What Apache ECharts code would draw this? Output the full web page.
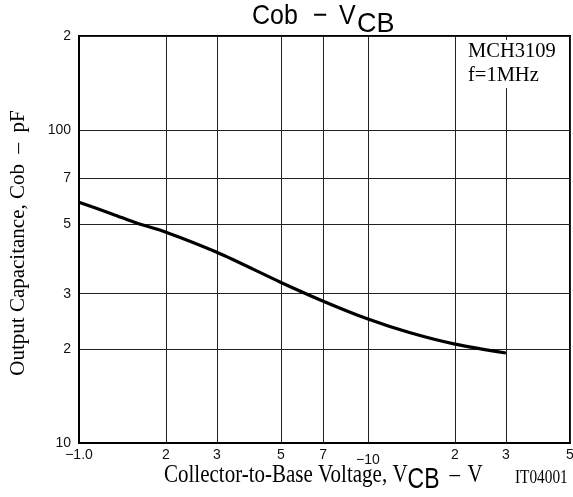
<!DOCTYPE html>
<html><head><meta charset="utf-8">
<script src="https://cdn.jsdelivr.net/npm/echarts@6/dist/echarts.min.js"></script>
<style>html,body{margin:0;padding:0;background:#fff}#c{width:573px;height:497px}</style>
</head><body><div id="c"></div>
<script>
// Data (Cob vs VCB, log-log)
const vcb = [1.0, 1.3, 1.6, 2, 3, 5, 7, 10, 14, 20, 30];
const cob = [58.8, 54.0, 50.3, 47.2, 40.7, 32.6, 28.4, 24.9, 22.5, 20.7, 19.4];
const xTickValues = [1, 2, 3, 5, 7, 10, 20, 30, 50];
const xTickLabels = ['\u22121.0', '2', '3', '5', '7', '\u221210', '2', '3', '5'];
const yTickValues = [10, 20, 30, 50, 70, 100, 200];
const yTickLabels = ['10', '2', '3', '5', '7', '100', '2'];
const legendLines = ['MCH3109', 'f=1MHz'];
const figureCode = 'IT04001';

const SERIF = "'Liberation Serif','Times New Roman',serif";
const SANS = "'Liberation Sans',Arial,Helvetica,sans-serif";

const cv = document.createElement('canvas').getContext('2d');
function tw(t, size, fam) { cv.font = size + 'px ' + fam; return cv.measureText(t).width; }

function lookup(vals, labels, v) {
  let best = 0, bd = Infinity;
  vals.forEach((x, i) => { const d = Math.abs(Math.log(x) - Math.log(v)); if (d < bd) { bd = d; best = i; } });
  return labels[best];
}

function txt(t, x, y, size, fam, sy, extra) {
  return Object.assign({ type: 'text', x: x, y: y, scaleY: sy || 1,
    style: { text: t, font: size + 'px ' + fam, fill: '#000', align: 'left', verticalAlign: 'top' } }, extra || {});
}

const chart = echarts.init(document.getElementById('c'), null, { renderer: 'canvas' });
const data = vcb.map((v, i) => [v, cob[i]]);

const graphics = [];
// Title: Cob − V_CB
graphics.push(txt('Cob', 252, 2, 25, SANS, 1.14));
graphics.push(txt('\u2212', 313, 2, 25, SANS, 1.14));
graphics.push(txt('V', 339, 2, 25, SANS, 1.14));
graphics.push(txt('CB', 357, 10, 27, SANS, 1.05));

// X axis title: Collector-to-Base Voltage, V_CB − V
const xs = 21;
const mainT = 'Collector-to-Base Voltage, V';
graphics.push(txt(mainT, 164, 462, xs, SERIF, 1.24));
const x1 = 164 + tw(mainT, xs, SERIF);
graphics.push(txt('CB', x1, 465, 23, SANS, 1.3));
graphics.push(txt('\u2013', x1 + 42, 462, xs, SERIF, 1.24));
graphics.push(txt('V', x1 + 60, 462, xs, SERIF, 1.24));
graphics.push(txt(figureCode, 515, 469, 15.3, SERIF, 1.2));

// Y axis title
graphics.push({ type: 'text', x: 18, y: 243, rotation: Math.PI / 2,
  style: { text: 'Output Capacitance, Cob  \u2013  pF', font: '21px ' + SERIF, fill: '#000', align: 'center', verticalAlign: 'middle' } });

// Legend box
graphics.push({ type: 'rect', shape: { x: 466, y: 40, width: 97, height: 48 }, style: { fill: '#fff' }, z: 10 });
graphics.push(txt(legendLines[0], 468, 41, 20.5, SERIF, 1, { z: 11 }));
graphics.push(txt(legendLines[1], 468, 65, 20.5, SERIF, 1, { z: 11 }));

const option = {
  animation: false,
  backgroundColor: '#fff',
  grid: { left: 79, right: 3, top: 36, bottom: 54, containLabel: false, outerBoundsMode: 'none',
          show: true, borderColor: '#000', borderWidth: 2 },
  xAxis: {
    type: 'log', logBase: 10, min: 1, max: 50,
    axisLine: { show: true, lineStyle: { color: '#000', width: 2 } },
    axisTick: { show: false, customValues: xTickValues },
    splitLine: { show: true, lineStyle: { color: '#222', width: 1 } },
    axisLabel: {
      customValues: xTickValues, showMinLabel: true, showMaxLabel: true,
      color: '#111', fontFamily: SANS, fontSize: 14, margin: 5,
      formatter: v => { const s = lookup(xTickValues, xTickLabels, v); return Math.abs(v - 10) < 0.01 ? '{low|' + s + '}' : s; },
      rich: { low: { fontFamily: SANS, fontSize: 14, color: '#111', padding: [5, 0, 0, 0] } }
    }
  },
  yAxis: {
    type: 'log', logBase: 10, min: 10, max: 200,
    axisLine: { show: true, lineStyle: { color: '#000', width: 2 } },
    axisTick: { show: false, customValues: yTickValues },
    splitLine: { show: true, lineStyle: { color: '#222', width: 1 } },
    axisLabel: {
      customValues: yTickValues, showMinLabel: true, showMaxLabel: true,
      color: '#111', fontFamily: SANS, fontSize: 14, margin: 8,
      formatter: v => lookup(yTickValues, yTickLabels, v)
    }
  },
  series: [{
    type: 'line', data: data, smooth: 0.3, symbol: 'none', clip: true,
    lineStyle: { color: '#000', width: 3.2 }, z: 5
  }],
  graphic: graphics
};
chart.setOption(option);
</script>
</body></html>
